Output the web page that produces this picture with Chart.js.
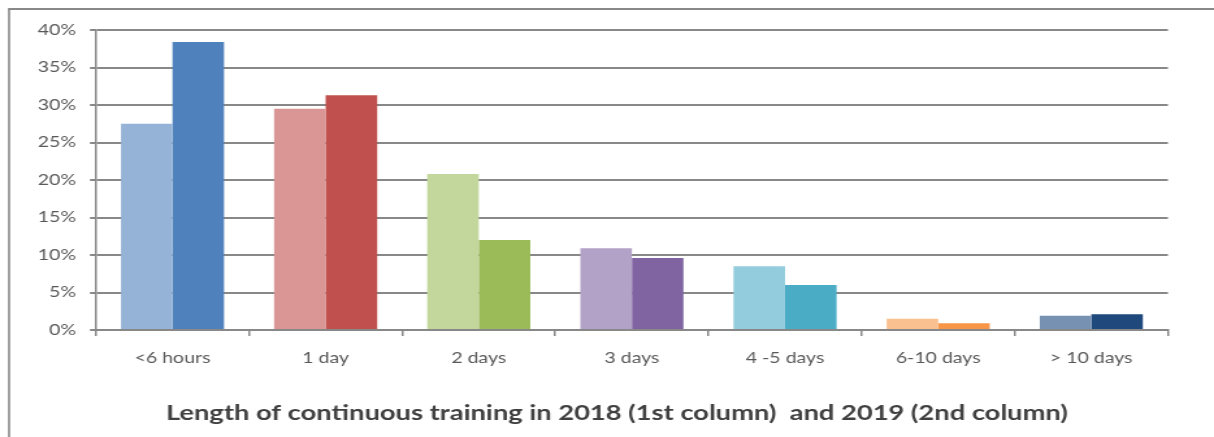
<!DOCTYPE html>
<html>
<head>
<meta charset="utf-8">
<script src="https://cdn.jsdelivr.net/npm/chart.js@4/dist/chart.umd.min.js"></script>
<style>
  html, body { margin: 0; padding: 0; background: #fff; overflow: hidden; }
  #wrap { width: 1214px; height: 437px; position: relative; }
  /* the source image is stretched horizontally, so draw narrow and widen */
  #chart { transform: scaleX(1.2998); transform-origin: 0 0; }
</style>
</head>
<body>
<div id="wrap"><canvas id="chart" width="934" height="437"></canvas></div>
<script>
// Length of continuous training, % of respondents
const categories = ['<6 hours', '1 day', '2 days', '3 days', '4 -5 days', '6-10 days', '> 10 days'];
const values2018 = [27.5, 29.5, 20.8, 10.9, 8.5, 1.5, 1.9];
const values2019 = [38.4, 31.3, 12.0, 9.6, 6.0, 0.9, 2.1];
const yTicks = [0, 5, 10, 15, 20, 25, 30, 35, 40];

// light shade = 2018, dark shade = 2019
const colors2018 = ['#95b3d7', '#d99694', '#c3d69b', '#b3a2c7', '#93cddd', '#fac090', '#7791b2'];
const colors2019 = ['#4f81bd', '#c0504d', '#9bbb59', '#8064a2', '#4bacc6', '#f79646', '#1f497d'];

const axisGray = '#888888';
const labelGray = '#595959';

// outer frame (top and left edges only visible in the crop)
const framePlugin = {
  id: 'frame',
  beforeDraw(chart) {
    const ctx = chart.ctx;
    ctx.save();
    ctx.strokeStyle = axisGray;
    ctx.lineWidth = 1.6;
    ctx.beginPath();
    ctx.moveTo(7, 437);
    ctx.lineTo(7, 9);
    ctx.stroke();
    ctx.lineWidth = 2;
    ctx.beginPath();
    ctx.moveTo(6.2, 9);
    ctx.lineTo(934, 9);
    ctx.stroke();
    ctx.restore();
  },
};

const ctx = document.getElementById('chart').getContext('2d');
new Chart(ctx, {
  type: 'bar',
  data: {
    labels: categories,
    datasets: [
      {
        label: '2018',
        data: values2018,
        backgroundColor: colors2018,
        borderWidth: 0,
        categoryPercentage: 0.673,
        barPercentage: 1,
      },
      {
        label: '2019',
        data: values2019,
        backgroundColor: colors2019,
        borderWidth: 0,
        categoryPercentage: 0.673,
        barPercentage: 1,
      },
    ],
  },
  options: {
    responsive: false,
    animation: false,
    layout: {
      // uneven padding so the bottom title sits where the original has it
      padding: { left: 15.2, top: 30, right: 0, bottom: 0 },
    },
    plugins: {
      legend: { display: false },
      tooltip: { enabled: false },
      title: {
        display: true,
        position: 'bottom',
        text: 'Length of continuous training in 2018 (1st column)  and 2019 (2nd column)',
        color: '#404040',
        font: { family: 'Lato', size: 21, weight: 'bold' },
        padding: { top: 30.4, bottom: 11.4 },
      },
    },
    scales: {
      x: {
        grid: {
          offset: true,
          drawOnChartArea: false,
          drawTicks: true,
          tickLength: 6,
          color: axisGray,
          lineWidth: 1.5,
        },
        border: { color: axisGray, width: 2 },
        ticks: {
          color: labelGray,
          font: { family: 'Lato', size: 15 },
          padding: 13,
          maxRotation: 0,
        },
        afterFit(scale) { scale.height = 40; },
      },
      y: {
        min: 0,
        max: 40,
        afterBuildTicks(scale) { scale.ticks = yTicks.map(v => ({ value: v })); },
        grid: {
          color: axisGray,
          lineWidth: 2,
          tickLength: 4.6,
        },
        border: { color: axisGray, width: 1.5 },
        ticks: {
          color: labelGray,
          font: { family: 'Lato', size: 15 },
          padding: 10.8,
          callback: v => v + '%',
        },
        afterFit(scale) { scale.width = 58.6; },
      },
      // empty right-hand strip, keeps the plot's right edge in place
      spacer: {
        position: 'right',
        min: 0,
        max: 40,
        grid: { display: false },
        border: { display: false },
        ticks: { display: false },
        afterFit(scale) { scale.width = 35.5; },
      },
    },
  },
  plugins: [framePlugin],
});
</script>
</body>
</html>
